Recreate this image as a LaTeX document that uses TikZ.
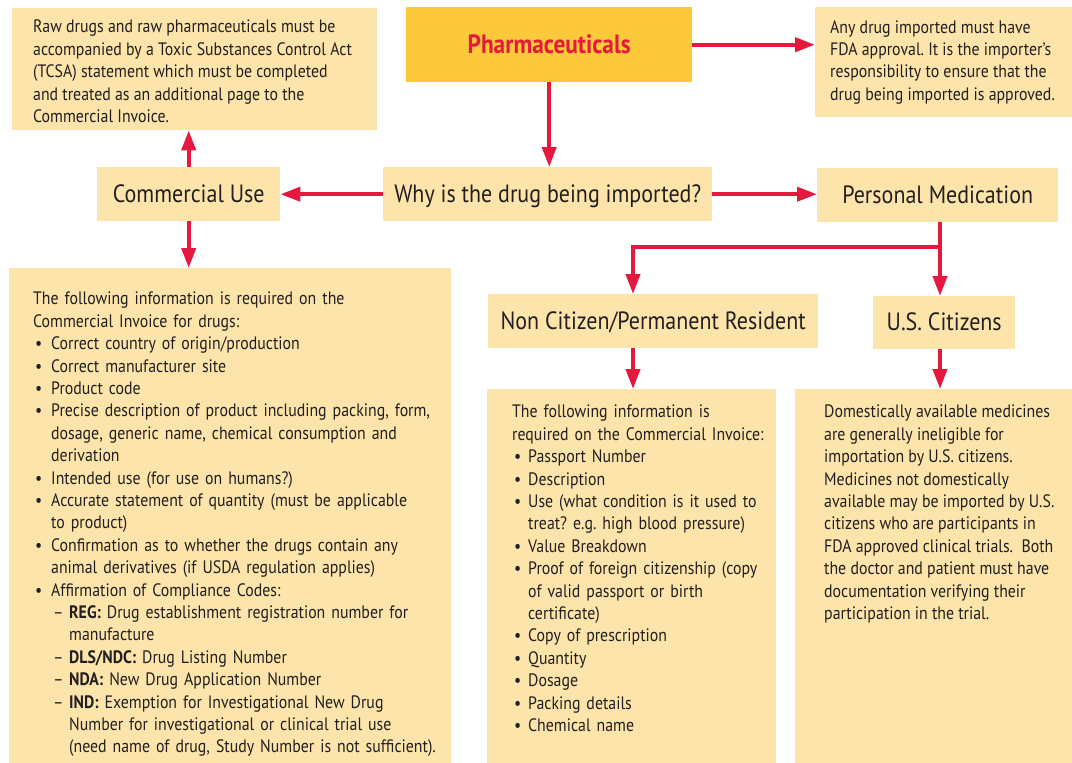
\documentclass[tikz,border=0pt]{standalone}
\usepackage{fontspec}
\setmainfont{PT Sans}[FakeStretch=0.88]
\usetikzlibrary{arrows.meta}
\definecolor{boxfill}{RGB}{252,228,170}
\definecolor{pharmfill}{RGB}{252,201,58}
\definecolor{redarr}{RGB}{229,25,62}
\definecolor{txt}{RGB}{35,31,32}
\newcommand\bodyfont{\fontsize{18}{22.4}\selectfont\frenchspacing}
\newcommand\headfont{\fontsize{25}{30}\selectfont}
\newcommand\bitem[2][18pt]{\par\hangindent=#1\hangafter=1\noindent\makebox[#1][l]{\hspace{2pt}\textbullet}#2}
\newcommand\ditem[1]{\par\hangindent=36pt\hangafter=1\noindent\hspace*{18pt}\makebox[18pt][l]{\hspace{2pt}–}#1}
\tikzset{
  rbox/.style={fill=boxfill, draw=none, inner sep=0pt, anchor=north west},
  hbox/.style={rbox, font=\headfont, text=txt, text height=17pt, text depth=1pt, align=center},
  body/.style={anchor=north west, inner sep=0pt, font=\bodyfont, text=txt, align=left},
  arr/.style={draw=redarr, line width=4pt, -{Triangle[length=20pt,width=14pt]}},
  plain/.style={draw=redarr, line width=4pt},
}
\begin{document}
\begin{tikzpicture}[x=1pt,y=-1pt]
\useasboundingbox (0,0) rectangle (1072,763);
% boxes
\node[rbox, minimum width=365pt, minimum height=122pt] (tl) at (12,8) {};
\node[rbox, fill=pharmfill, minimum width=286pt, minimum height=75pt, font=\fontsize{26.5}{30}\selectfont\bfseries, text=redarr, text height=18pt, text depth=1pt] (ph) at (406,7) {Pharmaceuticals};
\node[rbox, minimum width=257pt, minimum height=110pt] (fda) at (815,7) {};
\node[hbox, minimum width=183pt, minimum height=54pt] (cu) at (97,167) {Commercial Use};
\node[hbox, minimum width=329pt, minimum height=54pt] (why) at (383,167) {Why is the drug being imported?};
\node[hbox, minimum width=241pt, minimum height=54pt] (pm) at (817,168) {Personal Medication};
\node[hbox, minimum width=330pt, minimum height=54pt] (nc) at (488,294) {Non Citizen/Permanent Resident};
\node[hbox, minimum width=142pt, minimum height=53pt] (us) at (873,296) {U.S. Citizens};
\node[rbox, minimum width=442pt, minimum height=495pt] (big) at (9,268) {};
\node[rbox, minimum width=289pt, minimum height=374pt] (mid) at (487,389) {};
\node[rbox, minimum width=277pt, minimum height=374pt] (rt) at (795,389) {};
% texts
\node[body] (tltext) at (33,20) {Raw drugs and raw pharmaceuticals must be\\
accompanied by a Toxic Substances Control Act\\
(TCSA) statement which must be completed\\
and treated as an additional page to the\\
Commercial Invoice.};
\node[body] (fdatext) at (830,20) {Any drug imported must have\\
FDA approval. It is the importer’s\\
responsibility to ensure that the\\
drug being imported is approved.};
\node[body, text width=430pt] (bigtext) at (33,292) {The following information is required on the\newline Commercial Invoice for drugs:
\bitem{Correct country of origin/production}
\bitem{Correct manufacturer site}
\bitem{Product code}
\bitem{Precise description of product including packing, form,\newline dosage, generic name, chemical consumption and\newline derivation}
\bitem{Intended use (for use on humans?)}
\bitem{Accurate statement of quantity (must be applicable\newline to product)}
\bitem{Confirmation as to whether the drugs contain any\newline animal derivatives (if USDA regulation applies)}
\bitem{Affirmation of Compliance Codes:}
\ditem{\textbf{REG:} Drug establishment registration number for\newline manufacture}
\ditem{\textbf{DLS/NDC:} Drug Listing Number}
\ditem{\textbf{NDA:} New Drug Application Number}
\ditem{\textbf{IND:} Exemption for Investigational New Drug\newline Number for investigational or clinical trial use\newline (need name of drug, Study Number is not sufficient).}\par};
\node[body, text width=280pt] (midtext) at (512,405) {The following information is\newline required on the Commercial Invoice:
\bitem[16pt]{Passport Number}
\bitem[16pt]{Description}
\bitem[16pt]{Use (what condition is it used to\newline treat? e.g. high blood pressure)}
\bitem[16pt]{Value Breakdown}
\bitem[16pt]{Proof of foreign citizenship (copy\newline of valid passport or birth\newline certificate)}
\bitem[16pt]{Copy of prescription}
\bitem[16pt]{Quantity}
\bitem[16pt]{Dosage}
\bitem[16pt]{Packing details}
\bitem[16pt]{Chemical name}\par};
\node[body] (rttext) at (824,405) {Domestically available medicines\\ are generally ineligible for\\ importation by U.S. citizens.\\ Medicines not domestically\\ available may be imported by U.S.\\ citizens who are participants in\\ FDA approved clinical trials.\ \ Both\\ the doctor and patient must have\\ documentation verifying their\\ participation in the trial.};
% connectors
\coordinate (j1) at (940,247);
\coordinate (j2) at (633,247);
\draw[arr] (ph.east) -- (ph.east -| fda.west);
\draw[arr] (ph.south) -- (ph.south |- why.north);
\draw[arr] (why.west) -- (cu.east);
\draw[arr] (why.east) -- (why.east -| pm.west);
\draw[arr] (cu.north) -- (cu.north |- tl.south);
\draw[arr] (cu.south) -- (cu.south |- big.north);
\draw[plain] (pm.south -| j1) -- (j1);
\draw[arr] (j1) -- (j1 |- us.north);
\draw[arr, line join=miter] (j1) -- (j2) -- (j2 |- nc.north);
\draw[arr] (nc.south -| j2) -- (j2 |- mid.north);
\draw[arr] (us.south -| j1) -- (j1 |- rt.north);
\end{tikzpicture}
\end{document}
